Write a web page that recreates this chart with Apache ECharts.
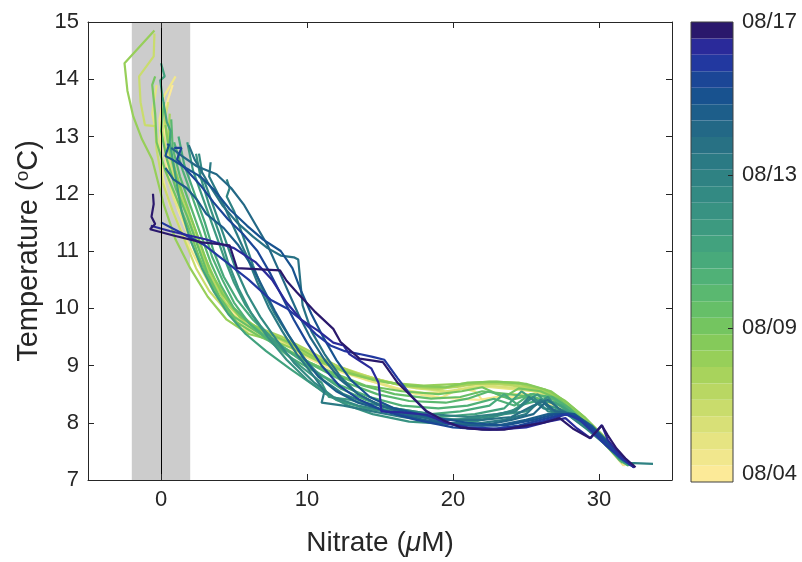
<!DOCTYPE html>
<html><head><meta charset="utf-8">
<script src="https://cdn.jsdelivr.net/npm/echarts@6/dist/echarts.min.js"></script>
<style>html,body{margin:0;padding:0;background:#fff}#c{width:802px;height:562px}</style>
</head><body><div id="c"></div>
<script>
// Each profile: [nitrate (uM), temperature (degC)] from surface to depth, ordered by date
const p01 = [[0.8,13.9],[0.3,13.5],[0.2,12.8],[0.6,12.2],[1.2,11.7],[2,11.2],[3,10.6],[4.2,10.1],[5.8,9.7],[8,9.45],[9.5,9.2],[11.5,8.95],[14,8.75],[17,8.55],[19,8.45],[20.3,8.42],[21.8,8.4],[23,8.45],[25,8.45],[27,8.3],[28.5,8.05],[29.5,7.85],[30.5,7.6],[31.3,7.4],[31.8,7.25]];
const p02 = [[1.0,14.05],[0.2,13.7],[-0.1,13.3],[0.0,12.8],[0.1,12.3],[0.6,11.8],[1.5,11.3],[2.5,10.8],[3.6,10.3],[5,9.8],[6.8,9.55],[8.5,9.4],[10,9.15],[12.5,8.9],[15,8.7],[17.1,8.52],[19.1,8.43],[20.5,8.6],[21.5,8.55],[22,8.4],[24,8.5],[26,8.5],[27.5,8.3],[28.8,8.05],[30,7.75],[31,7.45],[31.7,7.25]];
const p03 = [[-0.3,13.9],[-0.6,13.4],[-0.2,12.9],[0.3,12.4],[0.9,11.9],[1.6,11.5],[2.3,11.0],[3.2,10.5],[4.3,10.0],[5.5,9.65],[7.5,9.45],[9.5,9.3],[11.5,9.0],[13.5,8.8],[16,8.6],[18,8.52],[20,8.55],[21.5,8.65],[23.5,8.6],[25.5,8.55],[27,8.4],[28.3,8.15],[29.5,7.9],[30.6,7.6],[31.5,7.35],[32,7.25]];
const p04 = [[0.5,13.6],[0.1,13.1],[0.5,12.6],[1.1,12.1],[1.8,11.6],[2.5,11.1],[3.2,10.7],[4.0,10.3],[5.2,9.9],[7.0,9.6],[9.0,9.35],[11,9.1],[13,8.9],[15,8.75],[17.5,8.6],[19.5,8.55],[21,8.6],[22.5,8.65],[24.5,8.6],[26.5,8.5],[27.8,8.3],[29,8.0],[30.2,7.7],[31.2,7.45],[31.9,7.3]];
const p05 = [[-0.45,14.8],[-0.5,14.4],[-1.5,14.05],[-1.4,13.6],[-1.1,13.2],[-0.4,13.18],[-0.3,12.77],[0.1,12.2],[0.8,11.7],[1.6,11.2],[2.4,10.7],[3.3,10.3],[4.5,9.95],[6,9.7],[8,9.5],[10,9.25],[12,9.0],[14.5,8.78],[17,8.62],[19,8.58],[20.5,8.65],[22,8.7],[24,8.65],[26,8.55],[27.5,8.35],[28.7,8.1],[29.8,7.85],[30.8,7.55],[31.6,7.3]];
const p06 = [[0.2,13.5],[0.4,13.0],[0.8,12.5],[1.3,12.0],[2.0,11.5],[2.7,11.0],[3.5,10.5],[4.4,10.1],[5.6,9.8],[7.5,9.55],[9.3,9.3],[11.2,9.05],[13.5,8.85],[16,8.68],[18.5,8.6],[20.2,8.62],[21.5,8.68],[23.5,8.68],[25.5,8.6],[27,8.45],[28.3,8.2],[29.5,7.9],[30.6,7.6],[31.5,7.35]];
const p07 = [[0.6,13.4],[0.5,12.9],[1.0,12.4],[1.6,11.9],[2.3,11.4],[3.0,10.9],[3.7,10.5],[4.8,10.05],[6.3,9.7],[8.3,9.5],[10.2,9.25],[12,9.0],[14,8.8],[16.5,8.65],[19,8.6],[20.8,8.66],[22.5,8.7],[24.5,8.68],[26.3,8.55],[27.6,8.35],[28.8,8.1],[30,7.8],[31,7.5],[31.8,7.3]];
const p08 = [[-0.45,14.85],[-2.5,14.28],[-2.3,13.8],[-1.9,13.35],[-1.3,12.95],[-0.6,12.6],[0.2,11.8],[1.0,11.2],[2.0,10.7],[3.2,10.2],[4.5,9.8],[6,9.55],[7.5,9.45],[9,9.3],[11,9.05],[13,8.85],[15.5,8.7],[18,8.65],[20.5,8.68],[22.5,8.72],[24.5,8.7],[26.3,8.58],[27.7,8.38],[29,8.1],[30.2,7.8],[31.2,7.5],[32,7.3]];
const p09 = [[0.3,13.2],[0.6,12.7],[1.2,12.2],[1.9,11.7],[2.6,11.2],[3.3,10.7],[4.2,10.25],[5.4,9.85],[7,9.6],[8.8,9.4],[10.5,9.15],[12.5,8.9],[14.5,8.75],[17,8.65],[19.5,8.62],[21,8.7],[23,8.72],[25,8.68],[26.7,8.55],[27.8,8.35],[29,8.1],[30.1,7.8],[31.1,7.5],[31.9,7.3]];
const p10 = [[-0.4,14.05],[-0.6,13.9],[-0.4,13.4],[-0.3,12.9],[0.3,12.4],[1.1,11.9],[1.9,11.4],[2.6,10.9],[3.3,10.5],[4.2,10.1],[5.2,9.75],[6.8,9.5],[8.5,9.3],[10.2,9.05],[12,8.85],[14,8.65],[16.5,8.55],[19,8.5],[20.6,8.55],[22,8.62],[23.5,8.45],[24.5,8.6],[26,8.55],[27.3,8.4],[28.5,8.15],[29.7,7.85],[30.8,7.55],[31.7,7.3]];
const p11 = [[0.2,13.6],[0.0,13.1],[0.4,12.6],[1.0,12.1],[1.8,11.6],[2.5,11.1],[3.2,10.6],[4.0,10.2],[5,9.85],[6.5,9.6],[8,9.35],[9.8,9.1],[11.8,8.85],[13.8,8.65],[16,8.5],[18.5,8.42],[20.5,8.45],[22,8.55],[23.8,8.5],[25.5,8.45],[27,8.35],[28.3,8.12],[29.5,7.85],[30.7,7.55],[31.6,7.3]];
const p12 = [[0.7,13.3],[0.8,12.8],[1.3,12.3],[2.0,11.8],[2.7,11.3],[3.4,10.8],[4.1,10.4],[5.0,10.0],[6.2,9.7],[7.5,9.45],[9.0,9.2],[10.8,8.95],[12.7,8.7],[14.8,8.5],[17,8.38],[19.5,8.35],[21,8.42],[22.5,8.55],[24,8.4],[25.5,8.5],[26.8,8.42],[28,8.22],[29.3,7.92],[30.5,7.6],[31.5,7.33]];
const p13 = [[0.9,12.9],[1.5,12.4],[2.2,11.9],[2.9,11.4],[3.5,10.9],[4.2,10.5],[5.0,10.1],[6.0,9.75],[7.3,9.45],[8.8,9.15],[10.5,8.9],[12.3,8.65],[14.3,8.45],[16.5,8.3],[19,8.25],[21,8.3],[22.8,8.42],[24.2,8.3],[25.3,8.5],[26.8,8.45],[28,8.25],[29.2,7.95],[30.4,7.65],[31.4,7.35],[32,7.25]];
const p14 = [[1.2,13.0],[1.6,12.5],[2.3,12.0],[3.0,11.5],[3.6,11.0],[4.3,10.55],[5.2,10.15],[6.3,9.8],[7.5,9.5],[9,9.2],[10.6,8.9],[12.3,8.6],[14,8.4],[16,8.25],[18.5,8.15],[20.5,8.2],[22.5,8.3],[23.5,8.5],[24.5,8.3],[26,8.4],[27.5,8.3],[28.7,8.05],[29.9,7.8],[31,7.5],[31.9,7.28]];
const p15 = [[0.0,14.28],[0.25,14.05],[-0.05,13.98],[0.1,13.7],[0.4,13.25],[0.65,13.1],[0.6,12.9],[1.0,12.3],[1.4,11.7],[2.0,11.2],[2.8,10.7],[3.6,10.3],[4.6,9.9],[5.8,9.55],[7.2,9.25],[8.8,8.95],[10.5,8.65],[12,8.4],[14,8.25],[16.5,8.15],[19,8.1],[21.5,8.15],[23.5,8.25],[24.7,8.55],[25.5,8.4],[27,8.35],[28.3,8.15],[29.6,7.85],[30.8,7.55],[31.8,7.3]];
const p16 = [[1.8,12.9],[2.2,12.4],[2.9,11.9],[3.6,11.4],[4.3,10.9],[5.0,10.45],[5.8,10.05],[6.8,9.7],[8,9.35],[9.5,9.0],[11.0,8.7],[11.5,8.45],[13,8.4],[15,8.25],[17.5,8.1],[20,8.05],[22,8.1],[24,8.2],[25.8,8.5],[26.5,8.3],[27.8,8.2],[29,7.95],[30.2,7.7],[31.3,7.4],[32.1,7.25]];
const p17 = [[2.4,12.7],[2.7,12.3],[3.3,11.8],[4.0,11.3],[4.6,10.8],[5.3,10.35],[6.2,9.9],[7.3,9.5],[8.6,9.1],[10,8.75],[11.3,8.5],[12.8,8.3],[14.5,8.15],[17,8.02],[19.5,7.98],[21.5,8.02],[23.5,8.15],[25,8.2],[26.5,8.45],[27.2,8.25],[28.5,8.1],[29.7,7.85],[30.8,7.55],[31.8,7.3]];
const p18 = [[2.6,12.7],[2.8,12.4],[2.6,12.3],[3.0,12.2],[3.7,11.7],[4.4,11.2],[5.1,10.7],[5.9,10.25],[6.8,9.85],[7.9,9.45],[9.1,9.05],[10.5,8.7],[11.8,8.45],[13.5,8.3],[15.5,8.2],[18,8.1],[20.5,8.05],[22.5,8.1],[24.5,8.25],[25.5,8.45],[26.5,8.2],[27.8,8.15],[29.1,7.9],[30.3,7.65],[31.4,7.38],[32.3,7.25]];
const p19 = [[4.5,12.25],[4.7,12.1],[4.5,11.95],[5.0,11.7],[5.7,11.2],[6.3,10.75],[7.0,10.3],[7.8,9.9],[8.8,9.5],[9.9,9.1],[11.1,8.75],[12.5,8.5],[14,8.35],[16,8.25],[18.5,8.15],[21,8.1],[23,8.15],[24.3,8.2],[25.2,8.45],[26.2,8.25],[27.6,8.2],[28.9,7.95],[30,7.75],[31.1,7.5],[32,7.3],[33.7,7.28]];
const p20 = [[3.4,12.55],[3.3,12.3],[3.6,12.15],[4.3,11.8],[5.1,11.35],[5.9,10.9],[6.6,10.45],[7.4,10.0],[8.3,9.6],[9.3,9.2],[10.5,8.8],[11.2,8.55],[11.0,8.35],[12.5,8.3],[14.5,8.2],[16.5,8.1],[19,8.0],[21.5,7.98],[23.5,8.05],[25,8.15],[26,8.4],[26.8,8.2],[28.2,8.15],[29.4,7.9],[30.5,7.65],[31.5,7.38],[32.4,7.25]];
const p21 = [[1.9,12.85],[2.3,12.6],[3.2,12.2],[4.2,11.8],[5.2,11.5],[6.3,11.25],[7.3,11.05],[8.2,10.92],[9.1,10.89],[9.4,10.85],[9.7,10.05],[10.3,9.6],[11.2,9.2],[12.3,8.8],[13.5,8.5],[15,8.3],[17,8.15],[19.5,8.05],[22,8.05],[24,8.1],[25.5,8.3],[26.5,8.4],[27.5,8.2],[28.8,8.05],[30,7.8],[31.2,7.5],[32.2,7.28]];
const p22 = [[0.7,12.8],[1.5,12.65],[2.45,12.48],[3.8,12.34],[4.8,12.1],[5.7,11.8],[6.5,11.45],[7.3,11.1],[8.0,10.7],[8.7,10.3],[9.4,9.9],[10.2,9.5],[11.2,9.1],[12.3,8.75],[13.5,8.5],[15,8.3],[17,8.15],[19.5,8.0],[22,7.95],[24,8.05],[25.5,8.15],[26.3,8.35],[27,8.2],[28.3,8.15],[29.5,7.95],[30.5,7.7],[31.5,7.4],[32.3,7.25]];
const p23 = [[0.3,12.45],[0.85,12.25],[1.75,12.1],[2.45,11.9],[3.1,11.65],[4.3,11.4],[5.3,11.1],[6.2,10.75],[7.0,10.35],[7.8,9.95],[8.7,9.55],[9.7,9.15],[10.8,8.8],[12.0,8.55],[13.5,8.35],[15.5,8.2],[18,8.05],[20.5,7.95],[23,7.95],[25,8.05],[26.5,8.15],[28,8.15],[29.2,7.95],[30.3,7.7],[31.3,7.45],[32.2,7.25]];
const p24 = [[0.4,12.86],[0.55,12.86],[0.3,12.66],[0.75,12.6],[1.7,12.45],[2.7,12.3],[3.6,12.08],[4.7,11.73],[5.9,11.44],[7.0,11.2],[8.2,11.0],[9.0,10.7],[9.6,10.3],[10.3,9.9],[11.1,9.5],[12.0,9.1],[13.0,8.75],[14.3,8.45],[16,8.25],[18.5,8.1],[21,8.0],[23.5,7.95],[25.5,8.05],[27,8.15],[28.3,8.15],[29.4,7.95],[30.4,7.7],[31.4,7.45],[32.3,7.25]];
const p25 = [[0.9,12.8],[1.4,12.8],[1.1,12.6],[1.8,12.4],[2.7,12.15],[3.6,11.85],[4.6,11.55],[5.6,11.3],[6.6,11.0],[7.5,10.6],[8.3,10.2],[9.1,9.8],[10.0,9.4],[11.0,9.0],[12.2,8.65],[13.6,8.4],[15.3,8.2],[17.5,8.05],[20,7.92],[22.5,7.88],[24.5,7.95],[26,8.05],[27.5,8.15],[28.5,8.1],[29.5,7.9],[30.5,7.65],[31.5,7.4],[32.4,7.22]];
const p26 = [[0.0,11.5],[1.5,11.3],[3,11.1],[4.5,10.8],[6,10.5],[7.5,10.15],[8.6,10.0],[9.6,9.8],[10.6,9.55],[11.6,9.35],[12.6,9.25],[13.6,9.2],[14.5,9.15],[15.3,9.1],[16.2,8.78],[17.2,8.45],[18.2,8.19],[19.5,8.0],[21,7.92],[23,7.9],[25,7.95],[26.5,8.05],[27.8,8.15],[28.7,8.05],[29.5,7.85],[30.5,7.6],[31.5,7.38],[32.4,7.22]];
const p27 = [[-0.7,11.44],[0.6,11.35],[3.1,11.2],[5.0,11.05],[6.5,10.8],[7.6,10.5],[8.6,10.1],[9.6,9.8],[10.8,9.6],[11.8,9.4],[12.5,9.35],[12.9,9.2],[13.5,9.1],[14.4,8.95],[14.9,8.7],[15.1,8.2],[16.5,8.18],[18.2,8.14],[19.5,8.0],[21,7.9],[23,7.88],[25,7.92],[26.5,8.02],[27.7,8.08],[28.5,7.9],[29.4,7.73],[30.2,7.96],[30.6,7.7],[31.4,7.45],[32.4,7.22]];
const p28 = [[-0.55,12.0],[-0.5,11.82],[-0.65,11.6],[-0.4,11.47],[-0.75,11.38],[0.85,11.27],[2.8,11.15],[4.7,11.1],[5.2,10.7],[8.15,10.66],[8.6,10.48],[9.3,10.28],[10.5,9.95],[11.8,9.64],[12.3,9.41],[13.6,9.12],[15.2,9.06],[16.2,8.7],[17.2,8.45],[18.2,8.2],[19.3,8.05],[20.5,7.92],[22,7.88],[23.5,7.88],[25,7.95],[26.2,8.0],[27.3,8.08],[28.2,7.9],[29.4,7.73],[30.2,7.95],[30.6,7.78],[31.2,7.55],[31.8,7.38],[32.5,7.22]];
const profiles = [p01,p02,p03,p04,p05,p06,p07,p08,p09,p10,p11,p12,p13,p14,p15,p16,p17,p18,p19,p20,p21,p22,p23,p24,p25,p26,p27,p28];

const xTicks = [0, 10, 20, 30];
const yMin = 7, yMax = 15;
const xMin = -5, xMax = 35;
const detectionBand = [-2, 2];
const cbarLabels = ['08/04', '08/09', '08/13', '08/17'];
const cbarLabelPos = [0.5, 9.38, 18.7, 28];
const cbarTickPos = [9.38, 18.7];
// colormap steps, light (early) to dark (late)
const palette = ['#fcea98','#f1e78d','#e6e482','#d8e077','#c9dc6c','#b9d763','#a8d35c','#97cf59','#85ca5a','#74c560','#66bf68','#5ab870','#50b177','#48aa7b','#42a27e','#3d9a80','#389282','#338a83','#2f8283','#2b7a84','#287184','#236886','#1d5e8a','#18528f','#1b4696','#2238a0','#2a2a9a','#2a186c'];

const FONT = '"Liberation Sans", Arial, sans-serif';
const TXT = '#262626';

const series = [];
series.push({
  type: 'line', xAxisIndex: 0, yAxisIndex: 0, data: [], silent: true,
  markArea: { silent: true, itemStyle: { color: '#cccccc' }, data: [[{ xAxis: detectionBand[0] }, { xAxis: detectionBand[1] }]] },
  markLine: { silent: true, symbol: ['none', 'none'], label: { show: false }, lineStyle: { color: '#000', width: 1, type: 'solid' }, data: [{ xAxis: 0 }] }
});
profiles.forEach((p, i) => {
  series.push({
    type: 'line', xAxisIndex: 0, yAxisIndex: 0, data: p, showSymbol: false, symbol: 'none',
    lineStyle: { width: 2.2, color: palette[i] }, itemStyle: { color: palette[i] }, silent: true
  });
});
palette.forEach((c, i) => {
  series.push({
    type: 'bar', xAxisIndex: 2, yAxisIndex: 2, stack: 'cb', data: [1], barWidth: '100%',
    itemStyle: { color: c }, silent: true
  });
});

const option = {
  animation: false,
  backgroundColor: '#ffffff',
  grid: [
    { left: 88, right: 130, top: 22, bottom: 80 },
    { left: 691, width: 42, top: 22, bottom: 80 }
  ],
  xAxis: [
    { gridIndex: 0, type: 'value', min: xMin, max: xMax, position: 'bottom', z: 10,
      name: 'Nitrate ({it|μ}M)', nameLocation: 'middle', nameGap: 49,
      nameTextStyle: { fontFamily: FONT, fontSize: 28, color: TXT, rich: { it: { fontFamily: FONT, fontSize: 28, fontStyle: 'italic', color: TXT } } },
      axisLine: { show: true, onZero: false, lineStyle: { color: TXT, width: 1 } },
      axisTick: { show: true, inside: true, length: 6, customValues: xTicks, lineStyle: { color: TXT } },
      axisLabel: { customValues: xTicks, fontFamily: FONT, fontSize: 22, color: TXT, margin: 9 },
      splitLine: { show: false } },
    { gridIndex: 0, type: 'value', min: xMin, max: xMax, position: 'top', z: 10,
      axisLine: { show: true, onZero: false, lineStyle: { color: TXT, width: 1 } },
      axisTick: { show: true, inside: true, length: 6, customValues: xTicks, lineStyle: { color: TXT } },
      axisLabel: { show: false }, splitLine: { show: false } },
    { gridIndex: 1, type: 'category', data: ['c'], show: false }
  ],
  yAxis: [
    { gridIndex: 0, type: 'value', min: yMin, max: yMax, interval: 1, position: 'left', z: 10,
      name: 'Temperature ({sup|o}C)', nameLocation: 'middle', nameGap: 35, nameRotate: 90,
      nameTextStyle: { fontFamily: FONT, fontSize: 29, color: TXT, rich: { sup: { fontFamily: FONT, fontSize: 19, color: TXT, verticalAlign: 'top', padding: [0, 0, 12, 0] } } },
      axisLine: { show: true, onZero: false, lineStyle: { color: TXT, width: 1 } },
      axisTick: { show: true, inside: true, length: 6, lineStyle: { color: TXT } },
      axisLabel: { fontFamily: FONT, fontSize: 22, color: TXT, margin: 9 },
      splitLine: { show: false } },
    { gridIndex: 0, type: 'value', min: yMin, max: yMax, interval: 1, position: 'right', z: 10,
      axisLine: { show: true, onZero: false, lineStyle: { color: TXT, width: 1 } },
      axisTick: { show: true, inside: true, length: 6, lineStyle: { color: TXT } },
      axisLabel: { show: false }, splitLine: { show: false } },
    { gridIndex: 1, type: 'value', min: 0, max: 28, position: 'right', z: 10,
      axisLine: { show: false, onZero: false },
      axisTick: { show: true, inside: true, length: 5, customValues: cbarTickPos, lineStyle: { color: TXT } },
      axisLabel: { customValues: cbarLabelPos, fontFamily: FONT, fontSize: 22, color: TXT, margin: 9,
        formatter: v => { const k = cbarLabelPos.indexOf(v); return k >= 0 ? cbarLabels[k] : ''; } },
      splitLine: { show: false } }
  ],
  graphic: [
    { type: 'rect', z: 100, shape: { x: 691, y: 22, width: 42, height: 460 }, style: { fill: 'none', stroke: '#404040', lineWidth: 1 } }
  ],
  series: series
};
const chart = echarts.init(document.getElementById('c'), null, { renderer: 'canvas' });
chart.setOption(option);
</script>
</body></html>
